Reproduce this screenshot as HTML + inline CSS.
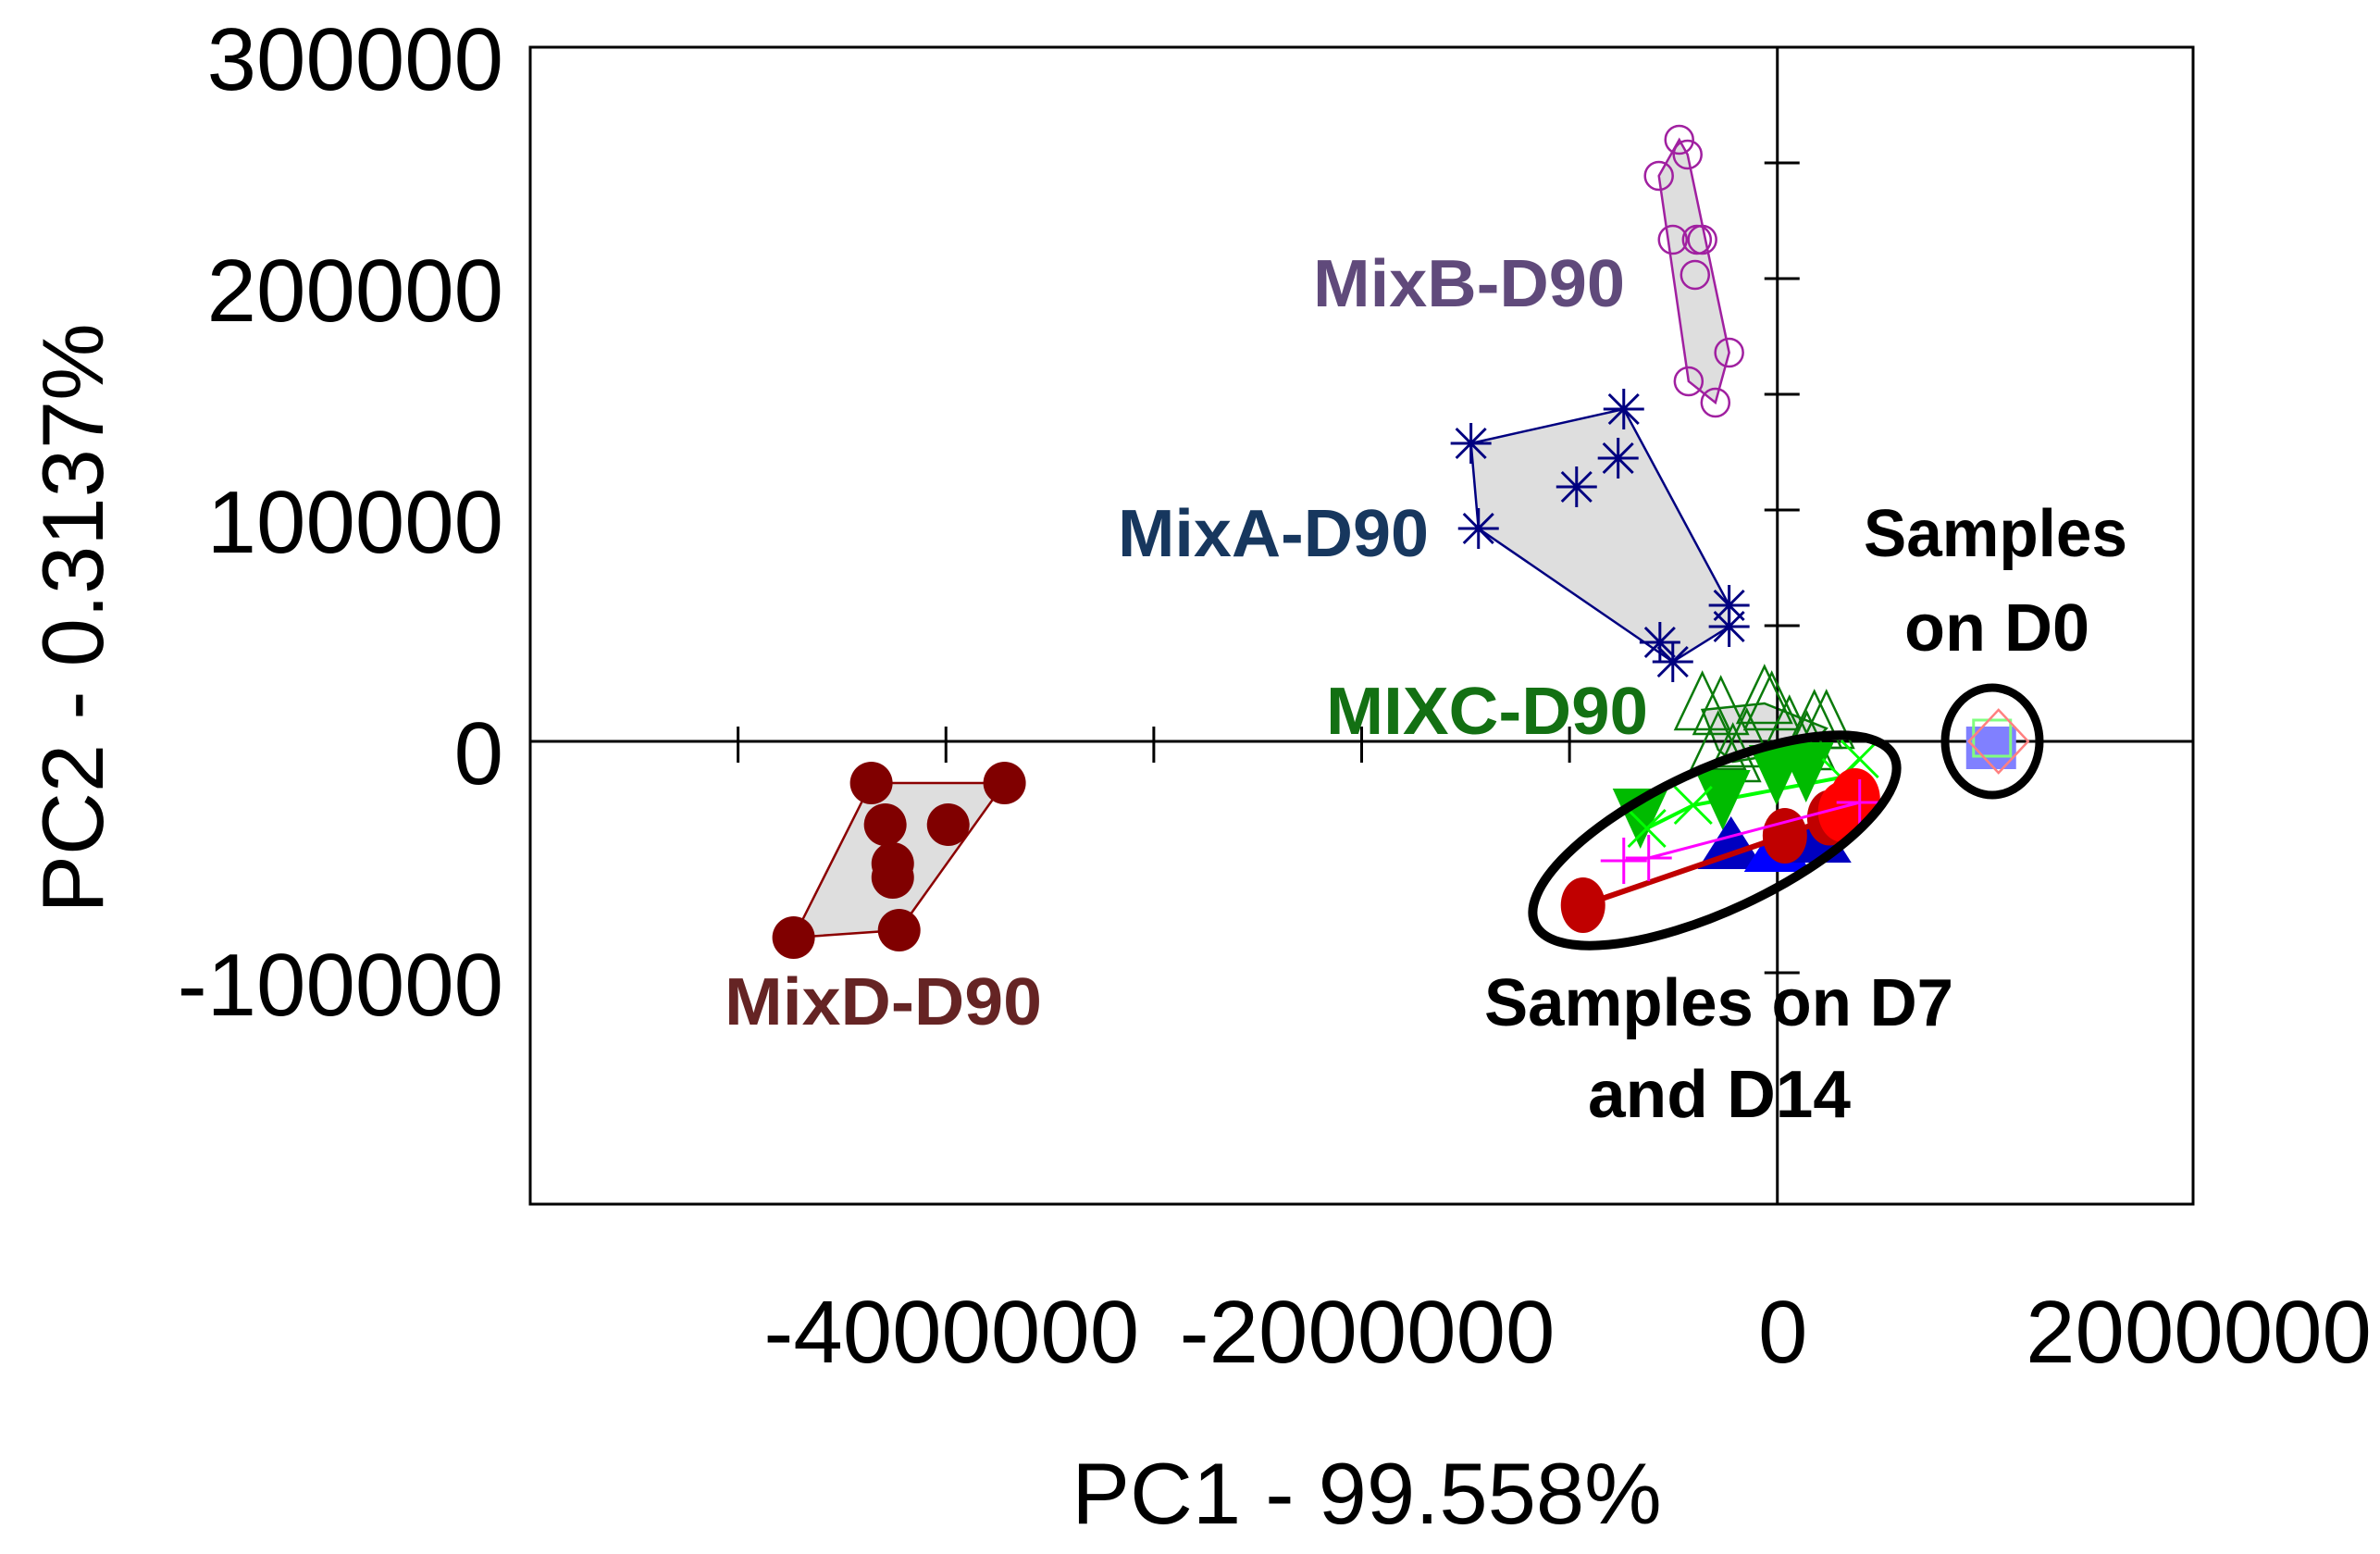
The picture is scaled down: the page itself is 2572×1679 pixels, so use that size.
<!DOCTYPE html>
<html><head><meta charset="utf-8"><style>
html,body{margin:0;padding:0;background:#fff;}
svg{display:block;}
</style></head><body>
<svg id="chart" width="2572" height="1679" viewBox="0 0 2572 1679" xmlns="http://www.w3.org/2000/svg" font-family="Liberation Sans, Arial, sans-serif">
<rect x="0" y="0" width="2572" height="1679" fill="#fff"/>
<g id="hulls"></g>
<g id="axes"></g>
<g id="marks"></g>
<g id="labels">
<text x="1419" y="331" font-size="72" font-weight="bold" fill="#604a7b" textLength="337" lengthAdjust="spacingAndGlyphs">MixB-D90</text>
<text x="1208" y="601" font-size="72" font-weight="bold" fill="#17375e" textLength="336" lengthAdjust="spacingAndGlyphs">MixA-D90</text>
<text x="1433" y="793" font-size="72" font-weight="bold" fill="#137013" textLength="348" lengthAdjust="spacingAndGlyphs">MIXC-D90</text>
<text x="783" y="1107" font-size="72" font-weight="bold" fill="#652424" textLength="343" lengthAdjust="spacingAndGlyphs">MixD-D90</text>
<text x="2014" y="601" font-size="72" font-weight="bold" fill="#000" textLength="285" lengthAdjust="spacingAndGlyphs">Samples</text>
<text x="2058" y="703" font-size="72" font-weight="bold" fill="#000" textLength="200" lengthAdjust="spacingAndGlyphs">on D0</text>
<text x="1604" y="1108" font-size="72" font-weight="bold" fill="#000" textLength="507" lengthAdjust="spacingAndGlyphs">Samples on D7</text>
<text x="1716" y="1207" font-size="72" font-weight="bold" fill="#000" textLength="284" lengthAdjust="spacingAndGlyphs">and D14</text>
<ellipse cx="1853" cy="908" rx="214" ry="76" transform="rotate(-25 1853 908)" fill="none" stroke="#000" stroke-width="10"/>
<ellipse cx="2153" cy="801" rx="51" ry="58" fill="none" stroke="#000" stroke-width="9"/>
</g>
<text x="1477" y="1646" font-size="94" text-anchor="middle" fill="#000">PC1 - 99.558%</text>
<text x="111" y="668" font-size="94" text-anchor="middle" fill="#000" transform="rotate(-90 111 668)">PC2 - 0.3137%</text>
</svg>
<script>
// ---- data (PC1, PC2 scores) ----
const xTickLabels = [-4000000, -2000000, 0, 2000000];
const yTickLabels = [300000, 200000, 100000, 0, -100000];
const xMinorTicks = [-5000000, -4000000, -3000000, -2000000, -1000000];
const yMinorTicks = [250000, 200000, 150000, 100000, 50000, -100000];

const mixB_x = [-472000, -432000, -570000, -503000, -387000, -361000, -396000, -232000, -427000, -298000];
const mixB_y = [260000, 253600, 244400, 216800, 216800, 216800, 201600, 168000, 155600, 146400];

const mixA_x = [-1474000, -739000, -766000, -966000, -1438000, -232000, -232000, -565000, -503000];
const mixA_y = [128800, 143600, 122400, 110000, 92000, 58800, 49600, 42800, 34400];

const mixD_x = [-4359000, -3718000, -4292000, -3989000, -4256000, -4256000, -4733000, -4225000];
const mixD_y = [-18000, -18000, -36000, -36000, -52800, -58800, -84800, -81600];

const mixC_x = [-361000, -272000, -62000, -27000, 178000, 236000, 58000, -285000, -147000, 142000, -214000];
const mixC_y = [13600, 11600, 16400, 13600, 5600, 5600, 3200, -3600, -2400, -3600, -8800];

const d7Green_x = [-659000, -263000, -4000, 138000];
const d7Green_y = [-30400, -22400, -11600, -10400];
const d7Lime_x = [-628000, -405000, 307000, 396000];
const d7Lime_y = [-37600, -27600, -15600, -7600];
const d7Blue_x = [-223000, 0, 196000];
const d7Blue_y = [-46400, -47600, -43600];
const d7DarkRed_x = [-935000, 36000, 250000];
const d7DarkRed_y = [-70800, -40800, -33000];
const d7Red_x = [316000, 374000];
const d7Red_y = [-30400, -24800];
const d7Magenta_x = [-739000, -619000, 396000];
const d7Magenta_y = [-51600, -50400, -26400];

const d0_x = [1064000];
const d0_y = [0];

// ---- axes ----
const X0 = 573, X1 = 2370, XMIN = -6000000, XMAX = 2000000;
const Y0 = 51, Y1 = 1301, YMAX = 300000, YMIN = -200000;
function sx(v){ return X0 + (v - XMIN) / (XMAX - XMIN) * (X1 - X0); }
function sy(v){ return Y0 + (YMAX - v) / (YMAX - YMIN) * (Y1 - Y0); }

const NS = 'http://www.w3.org/2000/svg';
function mk(tag, attrs, parent){
  const e = document.createElementNS(NS, tag);
  for (const k in attrs) e.setAttribute(k, attrs[k]);
  parent.appendChild(e);
  return e;
}
const axes = document.getElementById('axes');
const marks = document.getElementById('marks');
const hulls = document.getElementById('hulls');

let el = mk('rect', {x:X0, y:Y0, width:X1-X0, height:Y1-Y0, fill:'none', stroke:'#000', 'stroke-width':3}, axes);


el = mk('line', {x1:X0, x2:X1, y1:sy(0), y2:sy(0), stroke:'#000', 'stroke-width':3}, axes);


el = mk('line', {x1:sx(0), x2:sx(0), y1:Y0, y2:Y1, stroke:'#000', 'stroke-width':3}, axes);



xMinorTicks.forEach(v => {
  const t = mk('line', {x1:sx(v), x2:sx(v), y1:sy(0)-16, y2:sy(0)+23, stroke:'#000', 'stroke-width':3}, axes);
  
  
});
yMinorTicks.forEach(v => {
  const t = mk('line', {x1:sx(0)-14, x2:sx(0)+24, y1:sy(v), y2:sy(v), stroke:'#000', 'stroke-width':3}, axes);
  
  
});
xTickLabels.forEach(v => {
  const t = mk('text', {x:sx(v)+6, y:1472, 'font-size':96, 'text-anchor':'middle', fill:'#000'}, axes);
  t.textContent = v;
  
  
});
yTickLabels.forEach(v => {
  const t = mk('text', {x:544, y:sy(v)+46, 'font-size':96, 'text-anchor':'end', fill:'#000'}, axes);
  t.textContent = v;
  
  
});

// ---- hulls ----
function hull(xs, ys){
  const p = xs.map((x,i)=>[sx(x), sy(ys[i])]).sort((a,b)=>a[0]-b[0]||a[1]-b[1]);
  const cr=(o,a,b)=>(a[0]-o[0])*(b[1]-o[1])-(a[1]-o[1])*(b[0]-o[0]);
  const lo=[], up=[];
  for (const q of p){ while(lo.length>=2&&cr(lo[lo.length-2],lo[lo.length-1],q)<=0) lo.pop(); lo.push(q); }
  for (let i=p.length-1;i>=0;i--){ const q=p[i]; while(up.length>=2&&cr(up[up.length-2],up[up.length-1],q)<=0) up.pop(); up.push(q); }
  up.pop(); lo.pop();
  return lo.concat(up).map(q=>q.join(',')).join(' ');
}
function drawHull(xs, ys, col, name){
  const h = mk('polygon', {points:hull(xs, ys), fill:'#dedede', stroke:col, 'stroke-width':2.5}, hulls);
  
  
}
drawHull(mixB_x, mixB_y, '#a020a0', 'hull-mixb');
drawHull(mixA_x, mixA_y, '#000080', 'hull-mixa');
drawHull(mixD_x, mixD_y, '#8b0000', 'hull-mixd');
drawHull(mixC_x, mixC_y, '#0a7a0a', 'hull-mixc');

// ---- markers ----
mixC_x.forEach((x,i)=>{
  const cx=sx(x), cy=sy(mixC_y[i]);
  const m = mk('polygon', {points:`${cx},${cy-40} ${cx-29},${cy+21} ${cx+29},${cy+21}`, fill:'none', stroke:'#0a7a0a', 'stroke-width':2.5}, marks);
  
  
});
mixB_x.forEach((x,i)=>{
  const m = mk('circle', {cx:sx(x), cy:sy(mixB_y[i]), r:15, fill:'none', stroke:'#a020a0', 'stroke-width':2.5}, marks);
  
  
});
mixA_x.forEach((x,i)=>{
  const cx=sx(x), cy=sy(mixA_y[i]);
  const d=`M${cx-22},${cy}H${cx+22}M${cx},${cy-22}V${cy+22}M${cx-16},${cy-16}L${cx+16},${cy+16}M${cx-16},${cy+16}L${cx+16},${cy-16}`;
  const m = mk('path', {d:d, stroke:'#000080', 'stroke-width':3, fill:'none'}, marks);
  
  
});
mixD_x.forEach((x,i)=>{
  const m = mk('circle', {cx:sx(x), cy:sy(mixD_y[i]), r:23, fill:'#800000'}, marks);
  
  
});

function line(xs, ys, col, w, name){
  const m = mk('polyline', {points:xs.map((x,i)=>sx(x)+','+sy(ys[i])).join(' '), fill:'none', stroke:col, 'stroke-width':w}, marks);
  
  
}
line(d7Lime_x, d7Lime_y, '#00ff00', 4, 'line-d7-lime');
d7Green_x.forEach((x,i)=>{
  const cx=sx(x), cy=sy(d7Green_y[i]);
  const m = mk('polygon', {points:`${cx-30},${cy-25} ${cx+30},${cy-25} ${cx},${cy+40}`, fill:'#00bb00'}, marks);
  
  
});
d7Lime_x.forEach((x,i)=>{
  const cx=sx(x), cy=sy(d7Lime_y[i]);
  const m = mk('path', {d:`M${cx-20},${cy-20}L${cx+20},${cy+20}M${cx-20},${cy+20}L${cx+20},${cy-20}`, stroke:'#00ff00', 'stroke-width':3}, marks);
  
  
});
d7Blue_x.forEach((x,i)=>{
  const cx=sx(x), cy=sy(d7Blue_y[i]);
  const m = mk('polygon', {points:`${cx},${cy-35} ${cx-36},${cy+22} ${cx+36},${cy+22}`, fill:i==1?'#0000ff':'#0000c0'}, marks);
  
  
});
line(d7DarkRed_x, d7DarkRed_y, '#c00000', 6, 'line-d7-darkred');
d7DarkRed_x.forEach((x,i)=>{
  const m = mk('ellipse', {cx:sx(x), cy:sy(d7DarkRed_y[i]), rx:24, ry:30, fill:'#c00000'}, marks);
  
  
});
d7Red_x.forEach((x,i)=>{
  const m = mk('ellipse', {cx:sx(x), cy:sy(d7Red_y[i]), rx:27, ry:33, fill:'#ff0000'}, marks);
  
  
});
line(d7Magenta_x, d7Magenta_y, '#ff00ff', 3, 'line-d7-magenta');
d7Magenta_x.forEach((x,i)=>{
  const cx=sx(x), cy=sy(d7Magenta_y[i]);
  const m = mk('path', {d:`M${cx-25},${cy}H${cx+25}M${cx},${cy-25}V${cy+25}`, stroke:'#ff00ff', 'stroke-width':3}, marks);
  
  
});
d0_x.forEach((x,i)=>{
  const cx=sx(x), cy=sy(d0_y[i]);
  let m = mk('rect', {x:cx-35, y:cy-16, width:54, height:46, fill:'#8080ff'}, marks);
  
  
  m = mk('rect', {x:cx-27, y:cy-23, width:40, height:39, fill:'none', stroke:'#80ff80', 'stroke-width':3}, marks);
  
  
  m = mk('polygon', {points:`${cx},${cy-34} ${cx+32},${cy} ${cx},${cy+34} ${cx-32},${cy}`, fill:'none', stroke:'#ff8080', 'stroke-width':2.5}, marks);
  
  
});
</script>
</body></html>
